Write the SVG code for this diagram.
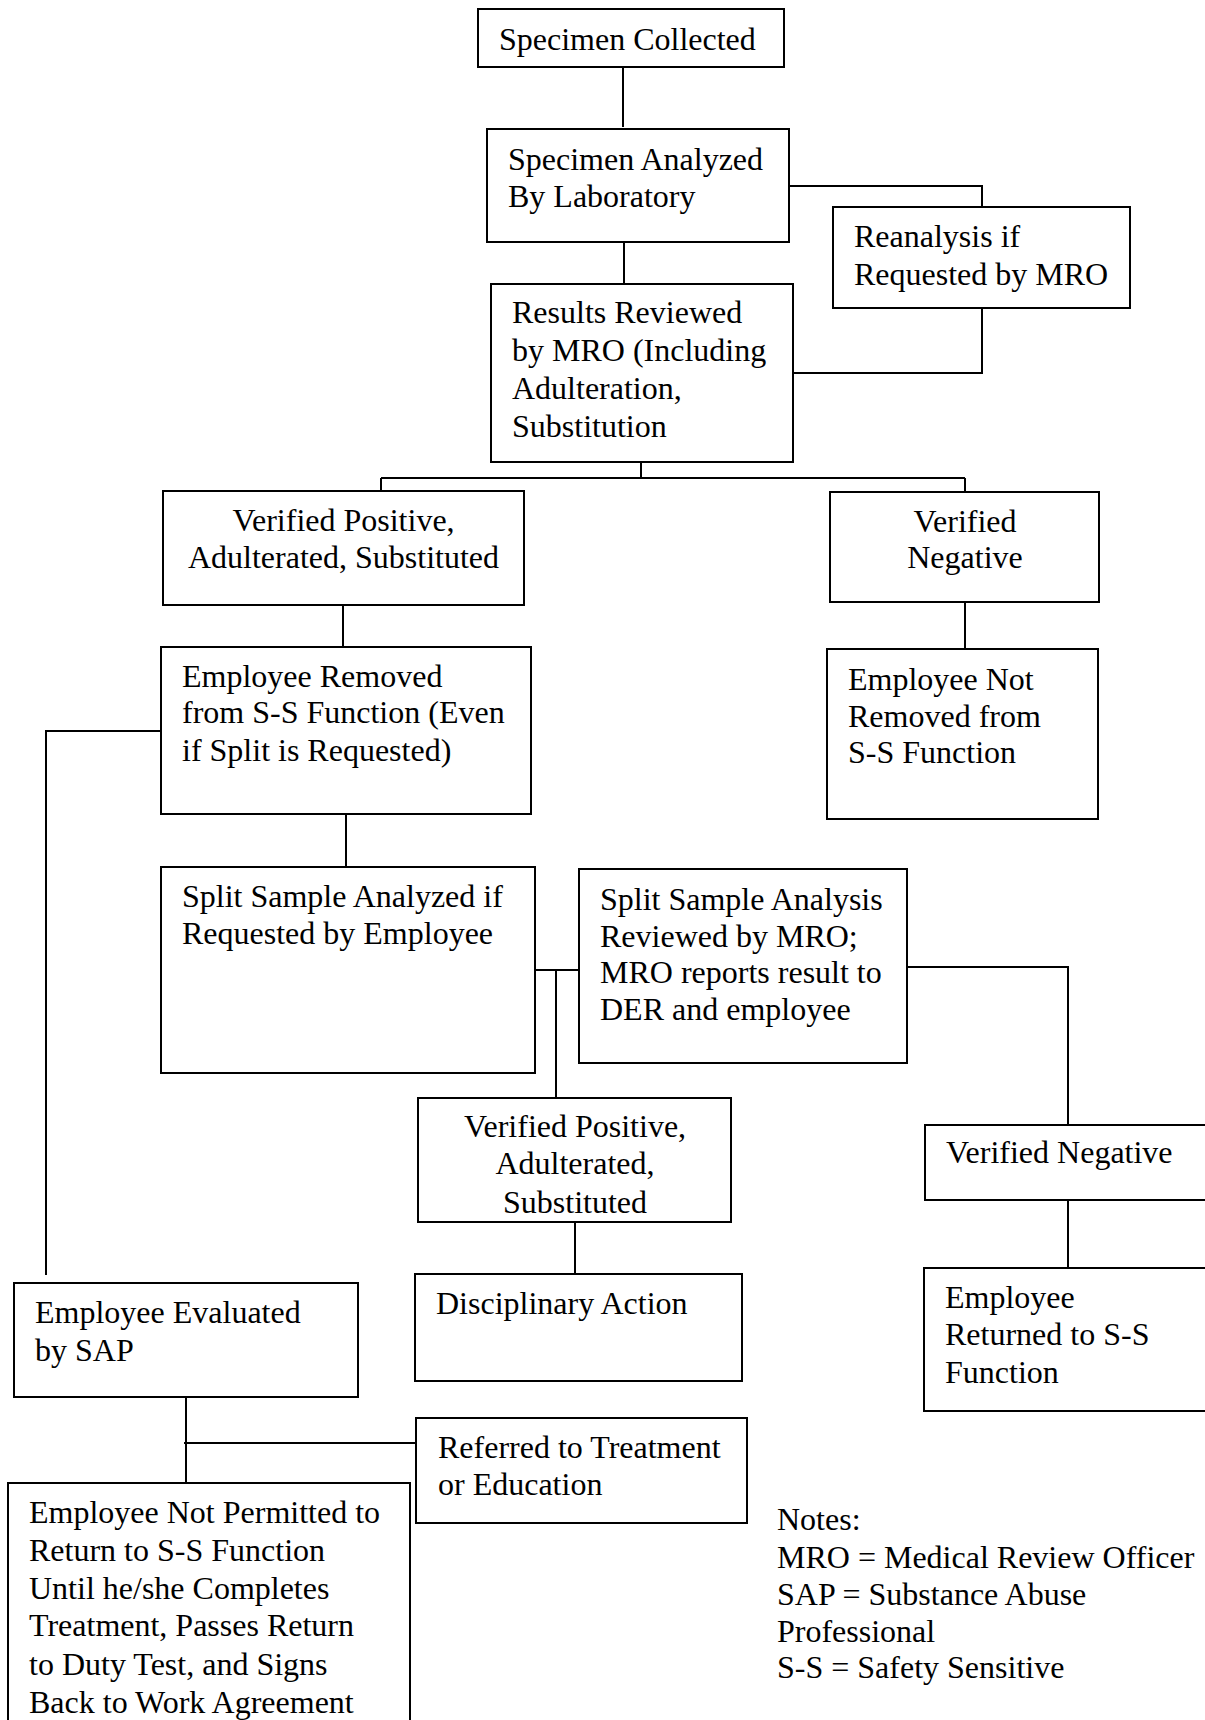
<svg xmlns="http://www.w3.org/2000/svg" width="1205" height="1720" viewBox="0 0 1205 1720">
<style>
.b{fill:#fff;stroke:#000;stroke-width:2}
.t{font-family:"Liberation Serif","Times New Roman",serif;font-size:32px;fill:#000}
.c{text-anchor:middle}
.k{fill:none;stroke:#000;stroke-width:2}
</style>
<defs>
<clipPath id="clipVP2"><rect x="418" y="1098" width="313" height="115"/></clipPath>
</defs>
<rect width="1205" height="1720" fill="#fff"/>
<g id="connectors" class="k">
<path d="M623 67V127"/>
<path d="M789 186H982V207"/>
<path d="M982 308V373H793"/>
<path d="M624 242V284"/>
<path d="M641 462V478M381 478H965M381 478V491M965 478V492"/>
<path d="M343 605V647"/>
<path d="M965 602V649"/>
<path d="M161 731H46V1275"/>
<path d="M346 814V867"/>
<path d="M535 970H579M556 970V1098"/>
<path d="M907 967H1068V1125"/>
<path d="M575 1222V1274"/>
<path d="M1068 1200V1268"/>
<path d="M186 1397V1483M184 1443H416"/>
</g>
<g id="specimen-collected"><rect class="b" x="478" y="9" width="306" height="58"/><text class="t" x="499" y="50">Specimen Collected</text></g>
<g id="specimen-analyzed"><rect class="b" x="487" y="129" width="302" height="113"/><text class="t" x="508" y="170">Specimen Analyzed</text><text class="t" x="508" y="207">By Laboratory</text></g>
<g id="reanalysis"><rect class="b" x="833" y="207" width="297" height="101"/><text class="t" x="854" y="247">Reanalysis if</text><text class="t" x="854" y="285">Requested by MRO</text></g>
<g id="results-reviewed"><rect class="b" x="491" y="284" width="302" height="178"/><text class="t" x="512" y="323">Results Reviewed</text><text class="t" x="512" y="361">by MRO (Including</text><text class="t" x="512" y="399">Adulteration,</text><text class="t" x="512" y="437">Substitution</text></g>
<g id="verified-positive-1"><rect class="b" x="163" y="491" width="361" height="114"/><text class="t c" x="343.5" y="531">Verified Positive,</text><text class="t c" x="343.5" y="568">Adulterated, Substituted</text></g>
<g id="verified-negative-1"><rect class="b" x="830" y="492" width="269" height="110"/><text class="t c" x="965" y="532">Verified</text><text class="t c" x="965" y="568">Negative</text></g>
<g id="employee-removed"><rect class="b" x="161" y="647" width="370" height="167"/><text class="t" x="182" y="687">Employee Removed</text><text class="t" x="182" y="723">from S-S Function (Even</text><text class="t" x="182" y="761">if Split is Requested)</text></g>
<g id="employee-not-removed"><rect class="b" x="827" y="649" width="271" height="170"/><text class="t" x="848" y="690">Employee Not</text><text class="t" x="848" y="727">Removed from</text><text class="t" x="848" y="763">S-S Function</text></g>
<g id="split-analyzed"><rect class="b" x="161" y="867" width="374" height="206"/><text class="t" x="182" y="907">Split Sample Analyzed if</text><text class="t" x="182" y="944">Requested by Employee</text></g>
<g id="split-reviewed"><rect class="b" x="579" y="869" width="328" height="194"/><text class="t" x="600" y="910">Split Sample Analysis</text><text class="t" x="600" y="947">Reviewed by MRO;</text><text class="t" x="600" y="983">MRO reports result to</text><text class="t" x="600" y="1020">DER and employee</text></g>
<g id="verified-positive-2"><rect class="b" x="418" y="1098" width="313" height="124"/><g clip-path="url(#clipVP2)"><text class="t c" x="575" y="1137">Verified Positive,</text><text class="t c" x="575" y="1174">Adulterated,</text><text class="t c" x="575" y="1213">Substituted</text></g></g>
<g id="verified-negative-2"><rect class="b" x="925" y="1125" width="295" height="75"/><text class="t" x="946" y="1163">Verified Negative</text></g>
<g id="disciplinary-action"><rect class="b" x="415" y="1274" width="327" height="107"/><text class="t" x="436" y="1314">Disciplinary Action</text></g>
<g id="employee-returned"><rect class="b" x="924" y="1268" width="295" height="143"/><text class="t" x="945" y="1308">Employee</text><text class="t" x="945" y="1345">Returned to S-S</text><text class="t" x="945" y="1383">Function</text></g>
<g id="employee-evaluated"><rect class="b" x="14" y="1283" width="344" height="114"/><text class="t" x="35" y="1323">Employee Evaluated</text><text class="t" x="35" y="1361">by SAP</text></g>
<g id="referred"><rect class="b" x="416" y="1418" width="331" height="105"/><text class="t" x="438" y="1458">Referred to Treatment</text><text class="t" x="438" y="1495">or Education</text></g>
<g id="not-permitted"><rect class="b" x="8" y="1483" width="402" height="260"/><text class="t" x="29" y="1523">Employee Not Permitted to</text><text class="t" x="29" y="1561">Return to S-S Function</text><text class="t" x="29" y="1599">Until he/she Completes</text><text class="t" x="29" y="1636">Treatment, Passes Return</text><text class="t" x="29" y="1675">to Duty Test, and Signs</text><text class="t" x="29" y="1713">Back to Work Agreement</text></g>
<g id="notes"><text class="t" x="777" y="1530">Notes:</text><text class="t" x="777" y="1568">MRO = Medical Review Officer</text><text class="t" x="777" y="1605">SAP = Substance Abuse</text><text class="t" x="777" y="1642">Professional</text><text class="t" x="777" y="1678">S-S = Safety Sensitive</text></g>
</svg>
